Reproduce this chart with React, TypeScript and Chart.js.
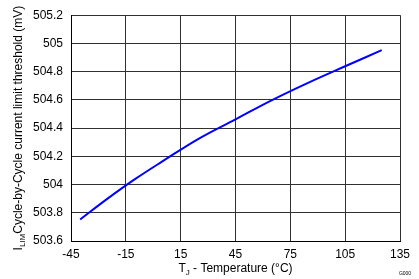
import React, { useEffect, useRef } from "react";
import { Chart, registerables } from "chart.js";

Chart.register(...registerables);

const temperatures = [-40, -25, -10, 5, 25, 45, 65, 85, 105, 125];
const thresholdMv = [503.752, 503.9, 504.038, 504.164, 504.326, 504.462, 504.598, 504.722, 504.838, 504.952];
const xTicks = [-45, -15, 15, 45, 75, 105, 135];
const yTicks = [503.6, 503.8, 504, 504.2, 504.4, 504.6, 504.8, 505, 505.2];

const FONT = '"Liberation Sans", Arial, sans-serif';

const titlePlugin = {
  id: "titles",
  afterDraw(chart: any) {
    const ctx = chart.ctx as CanvasRenderingContext2D;
    const area = chart.chartArea;
    ctx.save();
    ctx.fillStyle = "#000";
    ctx.textBaseline = "alphabetic";
    ctx.textAlign = "left";

    const mainF = `12px ${FONT}`;
    const subF = `8px ${FONT}`;
    const drawSub = (parts: [string, boolean][], x0: number, y: number) => {
      let x = x0;
      for (const [t, sub] of parts) {
        ctx.font = sub ? subF : mainF;
        ctx.fillText(t, x, sub ? y + 3 : y);
        x += ctx.measureText(t).width;
      }
    };
    const measure = (parts: [string, boolean][]) => {
      let w = 0;
      for (const [t, sub] of parts) {
        ctx.font = sub ? subF : mainF;
        w += ctx.measureText(t).width;
      }
      return w;
    };
    const xParts: [string, boolean][] = [["T", false], ["J", true], [" - Temperature (°C)", false]];
    const xw = measure(xParts);
    drawSub(xParts, (area.left + area.right) / 2 - xw / 2, 272);

    const yParts: [string, boolean][] = [["I", false], ["LIM", true], ["Cycle-by-Cycle current limit threshold (mV)", false]];
    const yw = measure(yParts);
    ctx.save();
    ctx.translate(22, (area.top + area.bottom) / 2);
    ctx.rotate(-Math.PI / 2);
    drawSub(yParts, -yw / 2, 0);
    ctx.restore();

    ctx.font = `5px ${FONT}`;
    ctx.textAlign = "center";
    ctx.fillText("G000", 405, 275);
    ctx.restore();
  },
};

export default function App() {
  const ref = useRef<HTMLCanvasElement>(null);
  useEffect(() => {
    document.body.style.margin = "0";
    const chart = new Chart(ref.current!, {
      type: "line",
      data: {
        datasets: [
          {
            data: temperatures.map((t, i) => ({ x: t, y: thresholdMv[i] })),
            borderColor: "#0000ff",
            borderWidth: 2,
            pointRadius: 0,
            tension: 0.4,
            fill: false,
          },
        ],
      },
      options: {
        responsive: false,
        animation: false,
        layout: { padding: { left: 0, top: 7, right: 19, bottom: 0 } },
        plugins: { legend: { display: false }, tooltip: { enabled: false } },
        scales: {
          x: {
            type: "linear",
            min: -45,
            max: 135,
            afterBuildTicks: (s: any) => {
              s.ticks = xTicks.map((v) => ({ value: v }));
            },
            afterFit: (s: any) => {
              s.height = 38;
            },
            grid: { color: "#303030", lineWidth: 1, drawTicks: false },
            border: { color: "#000", width: 1 },
            ticks: {
              color: "#000",
              font: { family: FONT, size: 12 },
              padding: 6,
              maxRotation: 0,
              callback: (v: any) => String(v),
            },
          },
          y: {
            type: "linear",
            min: 503.6,
            max: 505.2,
            afterBuildTicks: (s: any) => {
              s.ticks = yTicks.map((v) => ({ value: v }));
            },
            afterFit: (s: any) => {
              s.width = 71;
            },
            grid: { color: "#303030", lineWidth: 1, drawTicks: false },
            border: { color: "#000", width: 1 },
            ticks: {
              color: "#000",
              font: { family: FONT, size: 12 },
              padding: 8,
              callback: (v: any) => String(Math.round(Number(v) * 10) / 10),
            },
          },
        },
      },
      plugins: [titlePlugin],
    } as any);
    return () => chart.destroy();
  }, []);
  return (
    <div style={{ position: "absolute", left: 0, top: 0, width: 419, height: 279, background: "#fff" }}>
      <canvas ref={ref} width={419} height={279} style={{ display: "block" }} />
    </div>
  );
}
